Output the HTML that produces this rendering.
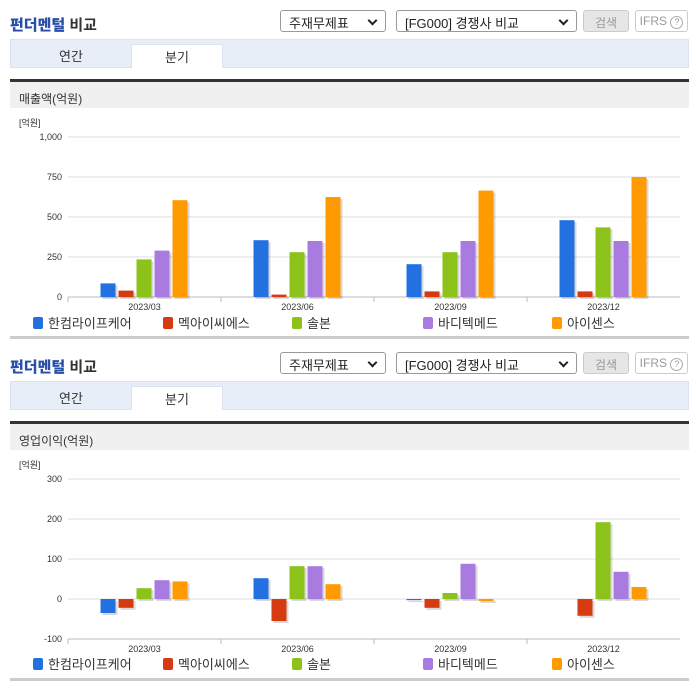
<!DOCTYPE html>
<html><head><meta charset="utf-8">
<style>
*{box-sizing:border-box;margin:0;padding:0}
body{width:696px;height:684px;background:#fff;font-family:"Liberation Sans","Noto Sans CJK KR",sans-serif;position:relative;overflow:hidden;color:#333}
.abs{position:absolute}
.title{left:10px;font-size:15px;font-weight:bold;color:#333}
.title b{color:#2a4fa8}
.sel{height:22px;border:1px solid #999;border-radius:3px;background:#fff;font-size:13px;padding:2px 0 0 8px;color:#222}
.sel:after{content:"";position:absolute;right:9px;top:6px;width:5px;height:5px;border-right:2px solid #222;border-bottom:2px solid #222;transform:rotate(45deg)}
.btn{height:22px;border:1px solid #ccc;border-radius:3px;font-size:12px;text-align:center;padding-top:3px;color:#999}
.tabs{left:10px;width:679px;height:29px;background:#e8eef8;border:1px solid #dbe3ef}
.tab{top:0;height:28px;font-size:13px;text-align:center;padding-top:6px;color:#333}
.hdr{left:10px;width:679px;height:29px;background:#f0f0f0;border-top:3px solid #333;font-size:12px;padding:8px 0 0 9px}
.sep{left:10px;width:679px;height:3px;background:#ccc}
</style></head><body>
<div id="root"></div>
<script>
const categories=["2023/03","2023/06","2023/09","2023/12"];
const seriesNames=["한컴라이프케어","멕아이씨에스","솔본","바디텍메드","아이센스"];
const colors=["#2370e0","#d63a10","#8cc21a","#a97be0","#ff9a00"];
const sales1=[85,355,205,480];
const sales2=[40,15,35,35];
const sales3=[235,280,280,435];
const sales4=[290,350,350,350];
const sales5=[605,625,665,750];
const op1=[-35,52,-3,0];
const op2=[-22,-55,-22,-42];
const op3=[27,82,15,192];
const op4=[47,82,88,68];
const op5=[44,37,-5,30];
const salesTicks=["0","250","500","750","1,000"];
const salesTickVals=[0,250,500,750,1000];
const opTicks=["-100","0","100","200","300"];
const opTickVals=[-100,0,100,200,300];

const NS="http://www.w3.org/2000/svg";
const root=document.getElementById('root');
function mk(tag,cls,style,text){const e=document.createElement(tag);if(cls)e.className=cls;if(style)e.style.cssText=style;if(text!=null)e.textContent=text;return e;}
function sv(tag,attrs){const e=document.createElementNS(NS,tag);for(const k in attrs)e.setAttribute(k,attrs[k]);return e;}

function block(off,hdrText,series,tickLabels,tickVals,vmin,vmax,yTop,yBot,legY){
  let e=mk('div','abs title','top:'+(off+14)+'px');e.innerHTML='<b>펀더멘털</b> 비교';
  root.appendChild(e);
  e=mk('div','abs sel','left:280px;top:'+(off+10)+'px;width:106px','주재무제표');
  root.appendChild(e);
  e=mk('div','abs sel','left:396px;top:'+(off+10)+'px;width:181px','[FG000] 경쟁사 비교');
  root.appendChild(e);
  e=mk('div','abs btn','left:583px;top:'+(off+10)+'px;width:46px;background:#e6e6e6','검색');
  root.appendChild(e);
  e=mk('div','abs btn','left:635px;top:'+(off+10)+'px;width:53px;background:#fff','IFRS ⓘ');e.textContent='IFRS ⓘ';e.innerHTML='IFRS <span style="display:inline-block;width:13px;height:13px;border:1px solid #aaa;border-radius:50%;font-size:9px;line-height:11px">?</span>';
  root.appendChild(e);
  const tabs=mk('div','abs tabs','top:'+(off+39)+'px');
  
  e=mk('div','abs tab','left:0;width:120px','연간');tabs.appendChild(e);
  e=mk('div','abs tab','left:120px;width:92px;top:4px;height:24px;padding-top:2px;background:#fff;border:1px solid #dbe3ef;border-bottom:none','분기');tabs.appendChild(e);
  root.appendChild(tabs);
  e=mk('div','abs hdr','top:'+(off+79)+'px',hdrText);root.appendChild(e);
  e=mk('div','abs sep','top:'+(off+336)+'px');root.appendChild(e);

  const svg=sv('svg',{width:696,height:240,style:'position:absolute;left:0;top:'+(off+112)+'px'});
  
  const x0=68,x1=680,gw=(x1-x0)/categories.length;
  const y=v=>yTop+(vmax-v)/(vmax-vmin)*(yBot-yTop);
  let t=sv('text',{x:19,y:14,'font-size':9,fill:'#333'});t.textContent='[억원]';
  svg.appendChild(t);
  tickVals.forEach((v,i)=>{
    const l=sv('line',{x1:x0,x2:x1,y1:y(v),y2:y(v),stroke:'#ddd'});
    svg.appendChild(l);
    const tx=sv('text',{x:62,y:y(v)+3,'font-size':9,'text-anchor':'end',fill:'#333'});tx.textContent=tickLabels[i];
    svg.appendChild(tx);
  });
  const ax=sv('line',{x1:x0,x2:x1,y1:yBot,y2:yBot,stroke:'#bbb'});
  svg.appendChild(ax);
  categories.forEach((c,ci)=>{
    const gx=x0+gw*ci;
    const tk=sv('line',{x1:gx,x2:gx,y1:yBot,y2:yBot+5,stroke:'#bbb'});
    svg.appendChild(tk);
    const tx=sv('text',{x:gx+gw/2,y:yBot+13,'font-size':9,'text-anchor':'middle',fill:'#333'});tx.textContent=c;
    svg.appendChild(tx);
    series.forEach((s,si)=>{
      const v=s[ci];const bx=gx+gw/2-44+si*18;
      const top=Math.min(y(v),y(0)),h=Math.abs(y(v)-y(0));
      if(h<0.5)return;
      const sh=sv('rect',{x:bx+2,y:top+2,width:15,height:h,fill:'#000','fill-opacity':0.15});
      svg.appendChild(sh);
      const r=sv('rect',{x:bx,y:top,width:15,height:h,fill:colors[si]});
      svg.appendChild(r);
    });
  });
  root.appendChild(svg);
  const lx=[33,163,292,423,552];
  seriesNames.forEach((n,i)=>{
    const le=mk('div','abs','left:'+lx[i]+'px;top:'+(off+legY)+'px;font-size:13px;color:#333;white-space:nowrap');
    le.innerHTML='<span style="display:inline-block;width:10px;height:12px;border-radius:2px;background:'+colors[i]+';vertical-align:-1px;margin-right:5px"></span>'+n;
    root.appendChild(le);
  });
}
block(0,'매출액(억원)',[sales1,sales2,sales3,sales4,sales5],salesTicks,salesTickVals,0,1000,25,185,313);
block(342,'영업이익(억원)',[op1,op2,op3,op4,op5],opTicks,opTickVals,-100,300,25,185,312);
</script>
</body></html>
